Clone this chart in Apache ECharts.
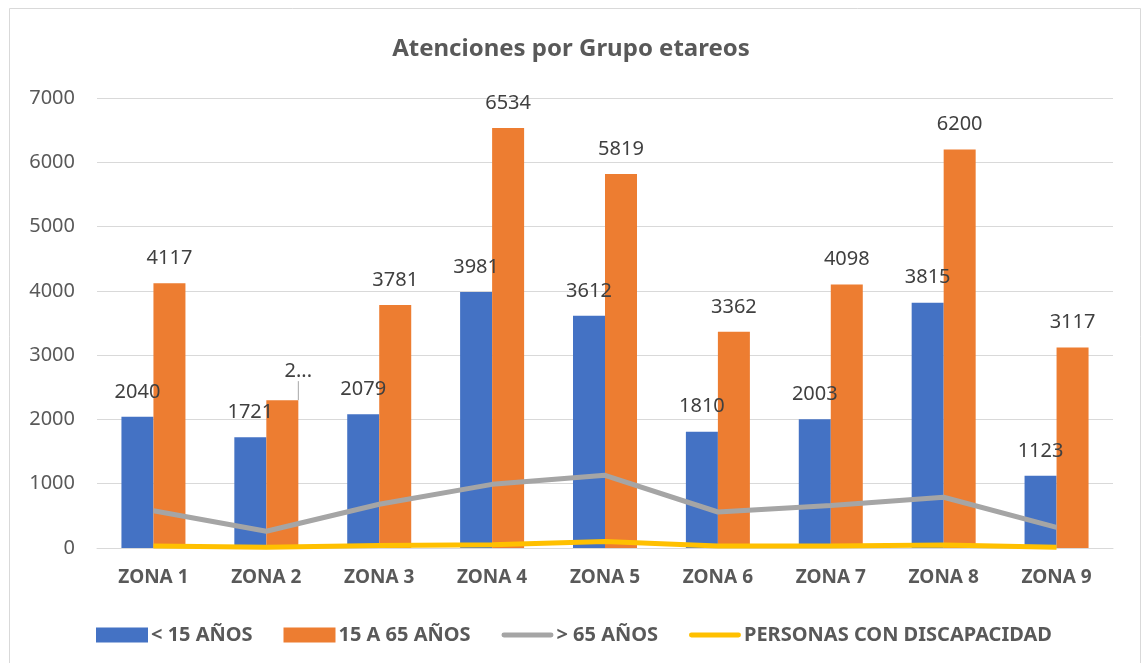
<!DOCTYPE html>
<html>
<head>
<meta charset="utf-8">
<script src="https://cdn.jsdelivr.net/npm/echarts@6/dist/echarts.min.js"></script>
<style>
  html, body { margin: 0; padding: 0; background: #fff; }
  #chart { width: 1142px; height: 663px; }
</style>
</head>
<body>
<div id="chart"></div>
<script>
// datos
const zonas = ['ZONA 1', 'ZONA 2', 'ZONA 3', 'ZONA 4', 'ZONA 5', 'ZONA 6', 'ZONA 7', 'ZONA 8', 'ZONA 9'];
const menores15 = [2040, 1721, 2079, 3981, 3612, 1810, 2003, 3815, 1123];
const de15a65 = [4117, 2300, 3781, 6534, 5819, 3362, 4098, 6200, 3117];
const mayores65 = [580, 260, 680, 990, 1130, 560, 660, 790, 320];
const discapacidad = [30, 10, 40, 50, 100, 30, 30, 45, 10];
const yTicks = [0, 1000, 2000, 3000, 4000, 5000, 6000, 7000];

const fuente = "'Noto Sans', 'Liberation Sans', sans-serif";
const gris = '#595959';
// icono de linea para la leyenda (caja 52x15, trazo de 5px)
const iconoLinea = 'path://M0,0 M2,5 L50,5 A2.5,2.5 0 0 1 50,10 L2,10 A2.5,2.5 0 0 1 2,5 Z M52,15';

let chart = echarts.init(document.getElementById('chart'), null, { renderer: 'canvas' });

let option = {
  backgroundColor: '#fff',
  textStyle: { fontFamily: fuente },
  title: {
    text: 'Atenciones por Grupo etareos',
    left: 'center',
    top: 32,
    textStyle: { fontSize: 24, fontWeight: 'bold', color: gris, fontFamily: fuente }
  },
  graphic: [{
    type: 'rect',
    shape: { x: 9.5, y: 8.5, width: 1131, height: 660 },
    style: { fill: 'none', stroke: '#d9d9d9', lineWidth: 1 },
    silent: true
  }],
  legend: {
    left: 91,
    top: 620,
    itemGap: 31,
    itemWidth: 52,
    itemHeight: 15,
    textStyle: { fontSize: 20, fontWeight: 'bold', color: gris, fontFamily: fuente, padding: [0, 0, 0, -2] },
    data: [
      { name: '< 15 AÑOS', icon: 'rect' },
      { name: '15 A 65 AÑOS', icon: 'rect' },
      { name: '> 65 AÑOS', icon: iconoLinea },
      { name: 'PERSONAS CON DISCAPACIDAD', icon: iconoLinea }
    ]
  },
  grid: { left: 97, right: 29, top: 98, bottom: 115 },
  xAxis: {
    type: 'category',
    data: zonas,
    axisTick: { show: false },
    axisLine: { lineStyle: { color: '#d9d9d9', width: 1 } },
    axisLabel: { fontSize: 19, fontWeight: 'bold', color: gris, margin: 20, fontFamily: fuente }
  },
  yAxis: {
    type: 'value',
    min: yTicks[0],
    max: yTicks[yTicks.length - 1],
    interval: 1000,
    axisLine: { show: false },
    axisTick: { show: false },
    splitLine: { lineStyle: { color: '#d9d9d9', width: 1 } },
    axisLabel: { fontSize: 20, color: gris, margin: 22, fontFamily: fuente, formatter: v => String(v) }
  },
  series: [
    {
      name: '< 15 AÑOS',
      type: 'bar',
      data: menores15,
      barWidth: 32,
      barGap: '0%',
      itemStyle: { color: '#4472c4' },
      label: { show: true, position: 'top', distance: 15, fontSize: 20, color: '#404040', fontFamily: fuente }
    },
    {
      name: '15 A 65 AÑOS',
      type: 'bar',
      data: de15a65.map((v, i) => i === 1
        ? { value: v, label: { formatter: '2...' }, labelLine: { show: true } }
        : v),
      barWidth: 32,
      itemStyle: { color: '#ed7d31' },
      label: { show: true, position: 'top', distance: 15, fontSize: 20, color: '#404040', fontFamily: fuente },
      labelLine: { show: false, lineStyle: { color: '#a6a6a6', width: 1 } },
      labelLayout: function (params) {
        if (params.dataIndex === 1) {
          return { dx: 16, dy: -4 };
        }
      }
    },
    {
      name: '> 65 AÑOS',
      type: 'line',
      data: mayores65,
      showSymbol: false,
      symbol: 'none',
      lineStyle: { color: '#a5a5a5', width: 5 },
      itemStyle: { color: '#a5a5a5' }
    },
    {
      name: 'PERSONAS CON DISCAPACIDAD',
      type: 'line',
      data: discapacidad,
      showSymbol: false,
      symbol: 'none',
      lineStyle: { color: '#ffc000', width: 5 },
      itemStyle: { color: '#ffc000' }
    }
  ]
};

chart.setOption(option);
</script>
</body>
</html>
